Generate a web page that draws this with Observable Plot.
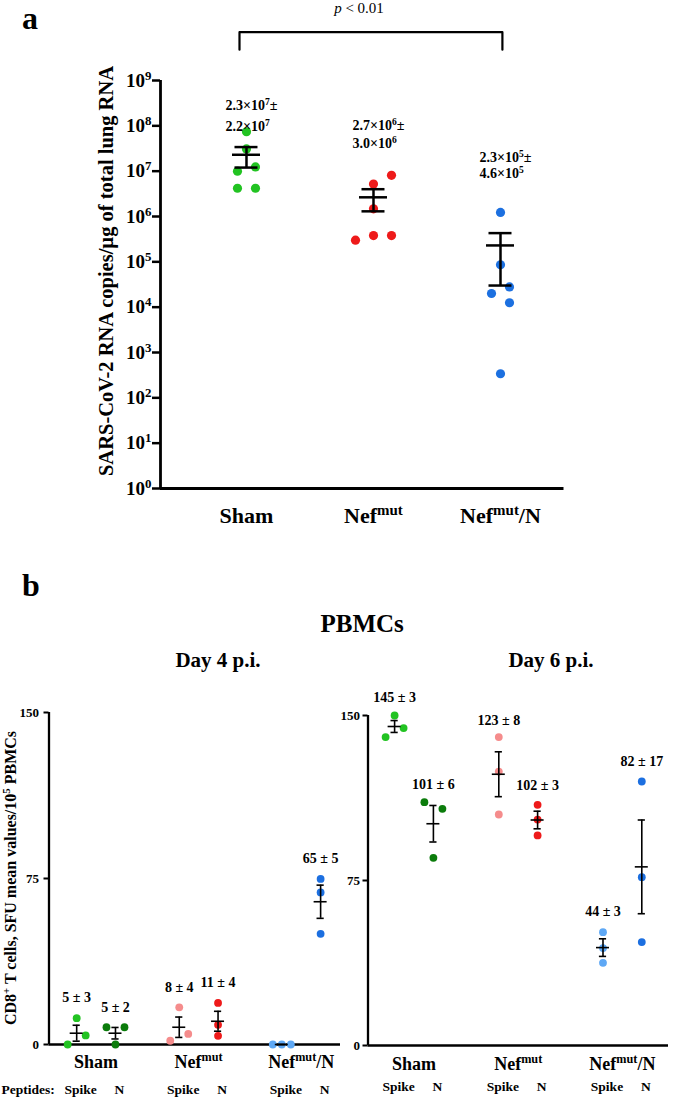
<!DOCTYPE html>
<html><head><meta charset="utf-8">
<script src="https://cdn.jsdelivr.net/npm/d3@7"></script>
<script src="https://cdn.jsdelivr.net/npm/@observablehq/plot@0.6"></script>
<style>
body{margin:0;background:#fff;}
#fig{position:relative;width:675px;height:1098px;overflow:hidden;font-family:"Liberation Serif","Times New Roman",serif;font-weight:bold;color:#000;}
.t{position:absolute;white-space:nowrap;line-height:1;}
.t sup{font-size:68%;line-height:0;}
#fig svg{position:absolute;background:transparent;}
#fig svg text{font-family:"Liberation Serif","Times New Roman",serif !important;font-weight:bold;}
</style></head><body><div id="fig"></div>
<script>
// ---------- DATA ----------
// Panel a: SARS-CoV-2 RNA copies / µg of total lung RNA
const groupsA = ["Sham", "Nef^{mut}", "Nef^{mut}/N"];
const copiesSham = [7.4e7, 3.1e7, 1.24e7, 1.0e7, 4.2e6, 4.2e6];
const copiesNef  = [8.1e6, 5.2e6, 1.48e6, 3.8e5, 3.8e5, 3.0e5];
const copiesNefN = [1.23e6, 8.6e4, 2.8e4, 2.0e4, 1.25e4, 3.4e2];
const meanA = [2.3e7, 2.65e6, 2.3e5];
const semA  = [1.1e7, 1.35e6, 2.0e5];
const annotA = ["2.3×10^{7}±", "2.2×10^{7}", "2.7×10^{6}±", "3.0×10^{6}", "2.3×10^{5}±", "4.6×10^{5}"];
const tickA = [1, 1e1, 1e2, 1e3, 1e4, 1e5, 1e6, 1e7, 1e8, 1e9];

// Panel b: CD8+ T cells, SFU / 10^5 PBMCs  (order: Sham Spike, Sham N, Nef Spike, Nef N, Nef/N Spike, Nef/N N)
const groupsB = ["Sham", "Nef^{mut}", "Nef^{mut}/N"];
const peptides = ["Spike", "N"];
const day4Values = [[0, 11.9, 4.1], [7.8, 7.8, 0], [1.7, 16.8, 4.8], [18.8, 8.9, 3.9], [0, 0, 0], [74.8, 68.7, 50]];
const day4Mean = [5.1, 5.1, 7.8, 10.5, 0, 64.5];
const day4Sem  = [3.6, 2.6, 4.6, 4.5, 0, 7.5];
const day4Labels = ["5 ± 3", "5 ± 2", "8 ± 4", "11 ± 4", "", "65 ± 5"];
const day6Values = [[150, 140.2, 144.3], [110.6, 107.6, 85.3], [140.2, 124.5, 105], [109.4, 102.7, 95.5], [51.5, 44.3, 37.6], [120, 76.5, 47]];
const day6Mean = [145, 100.8, 123.3, 102.5, 44.5, 81.2];
const day6Sem  = [2.7, 8.3, 10.2, 4.0, 4.0, 21.3];
const day6Labels = ["145 ± 3", "101 ± 6", "123 ± 8", "102 ± 3", "44 ± 3", "82 ± 17"];
const tickB = [0, 75, 150];

// ---------- STYLE / LAYOUT ----------
const colorsA = ["#22c322", "#ee1a1a", "#1c70e0"];
const colorsB = ["#22c322", "#0b7c0b", "#f58c8c", "#ee1a1a", "#5ea8f5", "#1c6fe0"];
const jitA = [[0, 0, 1, -1, -1, 1], [2, 0, 0, 0, 2, -2], [0, 0, 1, -1, 1, 0]];
const jit4 = [[-1, 0, 1], [-1, 1, 0], [-1, 0, 1], [0, 0, 0], [-1, 0, 1], [0, 0, 0]];
const jit6 = [[0, -1, 1], [-1, 1, 0], [0, 0, 0], [0, 0, 0], [0, 0, 0], [0, 0, 0]];
const FONT = '"Liberation Serif","Times New Roman",serif';
const fig = document.getElementById("fig");
const NS = "http://www.w3.org/2000/svg";

function rich(root) {
  root.querySelectorAll("text, tspan").forEach(el => {
    if (el.children.length) return;
    const s = el.textContent;
    if (!s.includes("^{")) return;
    el.textContent = "";
    const re = /\^\{([^}]*)\}/g; let last = 0, m;
    const add = (t, sup) => {
      const ts = document.createElementNS(NS, "tspan");
      ts.textContent = t;
      if (sup) { ts.setAttribute("baseline-shift", "super"); ts.setAttribute("style", "font-size:68%"); }
      el.appendChild(ts);
    };
    while ((m = re.exec(s))) { if (m.index > last) add(s.slice(last, m.index)); add(m[1], true); last = re.lastIndex; }
    if (last < s.length) add(s.slice(last));
  });
}
function put(el, left, top) { el.style.left = left + "px"; el.style.top = top + "px"; fig.appendChild(el); }
function label(html, left, top, size, extra) {
  const d = document.createElement("div"); d.className = "t"; d.innerHTML = html;
  d.style.fontSize = size + "px"; if (extra) Object.assign(d.style, extra);
  put(d, left, top); return d;
}

// ---------- PANEL A ----------
{
  const W = 675, H = 560, ml = 160, mr = 111.5, mt = 80, mb = 72, x0 = 0.323, x1 = 3.5;
  const unit = (W - ml - mr) / (x1 - x0);
  const pts = [];
  [copiesSham, copiesNef, copiesNefN].forEach((arr, gi) => arr.forEach((v, k) =>
    pts.push({x: gi + 1 + jitA[gi][k] * 9 / unit, v, c: colorsA[gi]})));
  const st = meanA.map((m, i) => ({x: i + 1, m, lo: m - semA[i], hi: m + semA[i]}));
  const annPos = [8.459, 7.985, 8.007, 7.616, 7.307, 6.953];
  const ann = annotA.map((t, i) => ({x: Math.floor(i / 2) + 1, y: Math.pow(10, annPos[i]), t}));
  const bracket = [{x: 0.945, y: Math.pow(10, 9.678)}, {x: 0.945, y: Math.pow(10, 10.066)},
                   {x: 3.015, y: Math.pow(10, 10.066)}, {x: 3.015, y: Math.pow(10, 9.678)}];
  const mh = 14 / unit, ch = 11.5 / unit;
  const svg = Plot.plot({
    width: W, height: H, marginLeft: ml, marginRight: mr, marginTop: mt, marginBottom: mb,
    x: {domain: [x0, x1]}, y: {type: "log", domain: [1, 1e9]}, color: {type: "identity"},
    style: {fontFamily: FONT, fontWeight: "bold", background: "transparent", overflow: "visible"},
    marks: [
      Plot.ruleX([x0], {strokeWidth: 2.8}),
      Plot.ruleY([1], {strokeWidth: 2.8}),
      Plot.axisY({ticks: tickA, tickFormat: d => `10^{${Math.round(Math.log10(d))}}`, tickSize: 8, tickPadding: 1, fontSize: 19, strokeWidth: 2.5, label: null}),
      Plot.axisX({ticks: [1, 2, 3], tickFormat: d => groupsA[d - 1], tickSize: 0, tickPadding: 19, fontSize: 22, label: null}),
      Plot.dot(pts, {x: "x", y: "v", r: 4.6, fill: "c"}),
      Plot.ruleY(st, {y: "m", x1: d => d.x - mh, x2: d => d.x + mh, strokeWidth: 2.5}),
      Plot.ruleX(st, {x: "x", y1: "lo", y2: "hi", strokeWidth: 2.5}),
      Plot.ruleY(st, {y: "hi", x1: d => d.x - ch, x2: d => d.x + ch, strokeWidth: 2.5}),
      Plot.ruleY(st, {y: "lo", x1: d => d.x - ch, x2: d => d.x + ch, strokeWidth: 2.5}),
      Plot.text(ann, {x: "x", y: "y", text: "t", textAnchor: "start", dx: -21, fontSize: 14}),
      Plot.line(bracket, {x: "x", y: "y", strokeWidth: 2.2})
    ]
  });
  rich(svg);
  put(svg, 0, 0);
}

// ---------- PANEL B ----------
function panelB(cfg) {
  const {values, means, sems, labels, labelY, jit} = cfg;
  const unit = (cfg.w - cfg.ml - cfg.mr) / (cfg.x1 - cfg.x0);
  const sub = 19.4 / unit, jw = 9 / unit, mh = 6.5 / unit, ch = 3.6 / unit;
  const condX = values.map((_, i) => Math.floor(i / 2) + (i % 2 ? sub : -sub));
  const pts = values.flatMap((arr, i) => arr.map((v, k) => ({x: condX[i] + jit[i][k] * jw, v, c: colorsB[i]})));
  const st = means.map((m, i) => ({x: condX[i], m, lo: m - sems[i], hi: m + sems[i], t: labels[i], ly: labelY[i]}));
  const svg = Plot.plot({
    width: cfg.w, height: cfg.h, marginLeft: cfg.ml, marginRight: cfg.mr, marginTop: cfg.mt, marginBottom: cfg.mb,
    x: {domain: [cfg.x0, cfg.x1]}, y: {domain: [0, 150]}, color: {type: "identity"},
    style: {fontFamily: FONT, fontWeight: "bold", background: "transparent", overflow: "visible"},
    marks: [
      Plot.ruleX([cfg.x0], {strokeWidth: 2.3}),
      Plot.ruleY([0], {strokeWidth: 2.3}),
      Plot.axisY({ticks: tickB, tickSize: 5, tickPadding: cfg.tp, fontSize: 13, strokeWidth: 2, label: null}),
      Plot.axisX({ticks: [0, 1, 2], tickFormat: d => groupsB[d], tickSize: 0, tickPadding: cfg.gp, fontSize: 18, label: null}),
      Plot.axisX({ticks: condX, tickFormat: d => peptides[condX.findIndex(p => Math.abs(p - d) < 1e-9) % 2], tickSize: 0, tickPadding: cfg.pp, fontSize: 13.5, dx: 4, label: null}),
      Plot.dot(pts, {x: "x", y: "v", r: 3.9, fill: "c"}),
      Plot.ruleY(st, {y: "m", x1: d => d.x - mh, x2: d => d.x + mh, strokeWidth: 1.6}),
      Plot.ruleX(st, {x: "x", y1: "lo", y2: "hi", strokeWidth: 1.6}),
      Plot.ruleY(st, {y: "hi", x1: d => d.x - ch, x2: d => d.x + ch, strokeWidth: 1.6}),
      Plot.ruleY(st, {y: "lo", x1: d => d.x - ch, x2: d => d.x + ch, strokeWidth: 1.6}),
      Plot.text(st.filter(d => d.t), {x: "x", y: "ly", text: "t", fontSize: 14})
    ]
  });
  rich(svg);
  put(svg, cfg.left, cfg.top);
}
panelB({values: day4Values, means: day4Mean, sems: day4Sem, labels: day4Labels, jit: jit4,
  labelY: [21.4, 16.9, 25.8, 28.1, 0, 84.0],
  left: 0, top: 690, w: 345, h: 408, ml: 48.5, mr: 5, mt: 22, mb: 54, x0: -0.459, x1: 2.383, tp: 5, gp: 11, pp: 40});
panelB({values: day6Values, means: day6Mean, sems: day6Sem, labels: day6Labels, jit: jit6,
  labelY: [158.3, 118.8, 147.7, 118.0, 60.9, 129.0],
  left: 340, top: 690, w: 335, h: 408, ml: 27.5, mr: 7, mt: 25, mb: 53, x0: -0.4415, x1: 2.4425, tp: 3, gp: 12, pp: 36});

// ---------- TEXT ----------
label("a", 22, 1.5, 32);
label("b", 22, 569, 32);
label("<i>p</i> &lt; 0.01", 359, 0.5, 15, {fontWeight: "normal", transform: "translateX(-50%)"});
label("SARS-CoV-2 RNA copies/µg of total lung RNA", 106, 271, 20.5, {transform: "translate(-50%,-50%) rotate(-90deg)"});
label("PBMCs", 320.5, 611, 25);
label("Day 4 p.i.", 218, 650, 21, {transform: "translateX(-50%)"});
label("Day 6 p.i.", 551, 650, 21, {transform: "translateX(-50%)"});
label("CD8<sup>+</sup> T cells, SFU mean values/10<sup>5</sup> PBMCs", 11, 878, 16, {transform: "translate(-50%,-50%) rotate(-90deg)"});
label("Peptides:", 1.5, 1083, 13.5);
</script></body></html>
